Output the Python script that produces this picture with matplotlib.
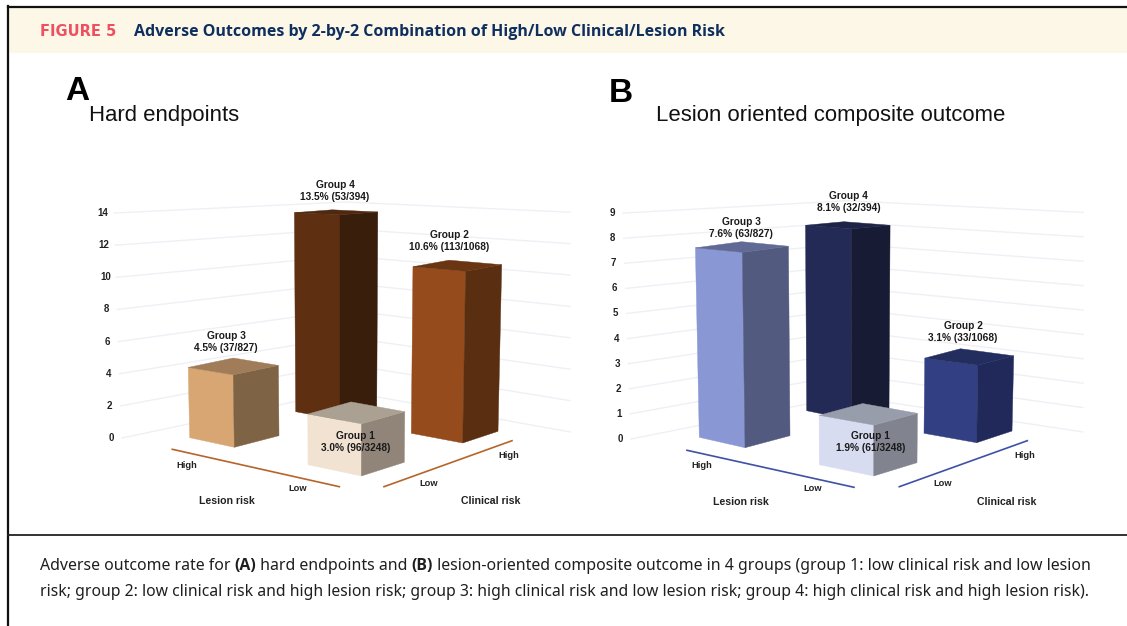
import matplotlib
matplotlib.use('Agg')
import matplotlib.pyplot as plt

# values, order is group 1, 2, 3, 4
groups = ['Group 1', 'Group 2', 'Group 3', 'Group 4']
hard_rates = [3.0, 10.6, 4.5, 13.5]
hard_events = [96, 113, 37, 53]
lesion_rates = [1.9, 3.1, 7.6, 8.1]
lesion_events = [61, 33, 63, 32]
group_sizes = [3248, 1068, 827, 394]

hard_ticks = [0, 2, 4, 6, 8, 10, 12, 14]
lesion_ticks = [0, 1, 2, 3, 4, 5, 6, 7, 8, 9]

caption_1 = [('Adverse outcome rate for ', False), ('(A)', True), (' hard endpoints and ', False), ('(B)', True),
             (' lesion-oriented composite outcome in 4 groups (group 1: low clinical risk and low lesion', False)]
caption_2 = [('risk; group 2: low clinical risk and high lesion risk; group 3: high clinical risk and low lesion '
              'risk; group 4: high clinical risk and high lesion risk).', False)]

# panel layout in picture pixels, the pseudo 3d floor is fixed, heights come from the values
panel_a = {
    # left, front, right floor corners of each bar
    'floor': [((308, 464.7), (361.3, 476), (404.3, 462.3)),
              ((411.3, 433.3), (462.7, 443), (498, 431.3)),
              ((189.7, 437.7), (234.3, 447.3), (279, 435.7)),
              ((295.7, 411.7), (340, 420), (376.7, 411))],
    'ppu': [17.4, 16.2, 16.1, 15.2],
    'spread': 0.0022, 'cx': 340,
    'front': ['#F2E2D2', '#964B1C', '#D8A673', '#5E2F11'],
    'side': ['#918579', '#5A2E10', '#7F6345', '#3A1E0C'],
    'top': ['#ABA192', '#6A3512', '#A07D58', '#4E280F'],
    'labels': [(355.7, 442), (449, 241), (226, 342), (335, 191)],
    'line': '#B5652A',
    'lesion_line': ((172.3, 449.3), (339.3, 486.7)),
    'clinical_line': ((384, 486.7), (512, 440.7)),
    'texts': [('High', 187, 465), ('Low', 298, 488.3), ('Low', 428.3, 483), ('High', 509, 455.7)],
    'names': [('Lesion risk', 226.7, 501.3), ('Clinical risk', 491, 501.3)],
    'grid_left': (122, 438, 0.57, 16.07),
    'grid_apex': (345, 391, 13.5),
    'grid_right': (570, 432, 15.7),
    'tick_x': 111,
}
panel_b = {
    'floor': [((819.3, 464.7), (873.7, 476), (917, 462.7)),
              ((924, 433.3), (976.7, 442.7), (1012, 431)),
              ((699.3, 437.3), (745, 447.7), (790, 435.7)),
              ((806.7, 410.7), (851.7, 420), (889, 410.7))],
    'ppu': [26.8, 25.0, 25.7, 23.6],
    'spread': 0.0034, 'cx': 850,
    'front': ['#D7DCF0', '#323F83', '#8998D4', '#232A55'],
    'side': ['#81838F', '#20295A', '#535A7F', '#171B33'],
    'top': ['#989DAC', '#232D5E', '#616A95', '#1E2448'],
    'labels': [(870.7, 442), (963, 332), (741, 228), (848.7, 202)],
    'line': '#3F51A5',
    'lesion_line': ((687, 450.3), (854, 487.3)),
    'clinical_line': ((899.3, 486.7), (1027.3, 440.7)),
    'texts': [('High', 701.3, 465), ('Low', 812.3, 488.3), ('Low', 943, 483.7), ('High', 1024.3, 456)],
    'names': [('Lesion risk', 741, 501.7), ('Clinical risk', 1006.3, 501.7)],
    'grid_left': (631, 439, 0.9, 25.1),
    'grid_apex': (847, 396, 21.7),
    'grid_right': (1083, 432, 24.4),
    'tick_x': 620,
}

plt.rcParams['font.family'] = ['Liberation Sans', 'DejaVu Sans']
GRID = '#EEF0F6'
HEAD_FONT = 'Open Sans'


def raise_point(p, value, ppu, spread, cx):
    # top of a bar corner: straight up by value, with a little perspective outwards
    x = p[0] + (p[0] - cx) * spread * value
    return x, p[1] - value * ppu


def draw_bar(ax, corners, value, ppu, spread, cx, front, side, top):
    left, mid, right = corners
    # the side corners are further back so their vertical scale is a bit smaller
    t_left = raise_point(left, value, ppu * 0.97, spread, cx)
    t_mid = raise_point(mid, value, ppu, spread, cx)
    t_right = raise_point(right, value, ppu * 0.97, spread, cx)
    t_back = (t_left[0] + t_right[0] - t_mid[0], t_left[1] + t_right[1] - t_mid[1])
    ax.fill(*zip(left, mid, t_mid, t_left), color=front, lw=0.3)
    ax.fill(*zip(mid, right, t_right, t_mid), color=side, lw=0.3)
    ax.fill(*zip(t_left, t_mid, t_right, t_back), color=top, lw=0.3)


def draw_panel(ax, panel, rates, events, ticks):
    x0, y0, xs, ys = panel['grid_left']
    ax_, ay, at = panel['grid_apex']
    xr, yr, rs = panel['grid_right']
    for v in ticks:
        ax.plot([x0 - xs * v, ax_, xr], [y0 - ys * v, ay - at * v, yr - rs * v], color=GRID, lw=1.0, zorder=1)
        ax.text(panel['tick_x'] - xs * v, y0 - ys * v, str(v), ha='center', va='center',
                fontsize=7, fontweight='bold', color='#222222')

    # back to front so the near bars cover the far ones
    for i in [3, 2, 1, 0]:
        draw_bar(ax, panel['floor'][i], rates[i], panel['ppu'][i], panel['spread'], panel['cx'],
                 panel['front'][i], panel['side'][i], panel['top'][i])

    for i in range(len(groups)):
        txt = groups[i] + '\n' + str(rates[i]) + '% (' + str(events[i]) + '/' + str(group_sizes[i]) + ')'
        x, y = panel['labels'][i]
        ax.text(x, y, txt, ha='center', va='center', fontsize=7.3, fontweight='bold', color='#1A1A1A',
                linespacing=1.35, zorder=10)

    for key in ['lesion_line', 'clinical_line']:
        a, b = panel[key]
        ax.plot([a[0], b[0]], [a[1], b[1]], color=panel['line'], lw=1.2, zorder=2)
    for s, x, y in panel['texts']:
        ax.text(x, y, s, ha='center', va='center', fontsize=6.7, fontweight='bold', color='#222222')
    for s, x, y in panel['names']:
        ax.text(x, y, s, ha='center', va='center', fontsize=7.6, fontweight='bold', color='#222222')


def draw_runs(ax, fig, x, y, runs, size):
    # caption with bold pieces in it, each piece starts where the last one ended
    r = fig.canvas.get_renderer()
    for s, bold in runs:
        t = ax.text(x, y, s, ha='left', va='center', fontsize=size, family=HEAD_FONT if bold else 'Noto Sans',
                    fontweight='bold' if bold else 'normal', color='#1F1F1F')
        x = x + t.get_window_extent(r).width


fig = plt.figure(figsize=(11.27, 6.26), dpi=100)
ax = fig.add_axes([0, 0, 1, 1])
ax.set_xlim(0, 1127)
ax.set_ylim(626, 0)
ax.axis('off')

# frame and header band
ax.fill([8, 1127, 1127, 8], [7, 7, 52.5, 52.5], color='#FDF7E8', lw=0)
ax.plot([8, 8], [6, 626], color='#111111', lw=1.6)
ax.plot([8, 1127], [6.5, 6.5], color='#111111', lw=1.6)
ax.plot([8, 1127], [535, 535], color='#222222', lw=1.3)

ax.text(40, 32, 'FIGURE 5', ha='left', va='center', fontsize=10.5, family='DejaVu Sans', fontweight='bold', color='#EF4F5F')
ax.text(134, 31.5, 'Adverse Outcomes by 2-by-2 Combination of High/Low Clinical/Lesion Risk', ha='left', va='center',
        fontsize=11.5, family=HEAD_FONT, fontweight='bold', color='#0F2F5F')

ax.text(65, 92, 'A', ha='left', va='center', fontsize=24, fontweight='bold', color='black')
ax.text(609, 93, 'B', ha='left', va='center', fontsize=24, fontweight='bold', color='black')
ax.text(89, 115, 'Hard endpoints', ha='left', va='center', fontsize=15.9, color='#111111')
ax.text(656, 115, 'Lesion oriented composite outcome', ha='left', va='center', fontsize=15.9, color='#111111')

draw_panel(ax, panel_a, hard_rates, hard_events, hard_ticks)
draw_panel(ax, panel_b, lesion_rates, lesion_events, lesion_ticks)

draw_runs(ax, fig, 40, 566, caption_1, 11.45)
draw_runs(ax, fig, 40, 592, caption_2, 11.33)

fig.savefig('out.png', dpi=100)
plt.close(fig)
